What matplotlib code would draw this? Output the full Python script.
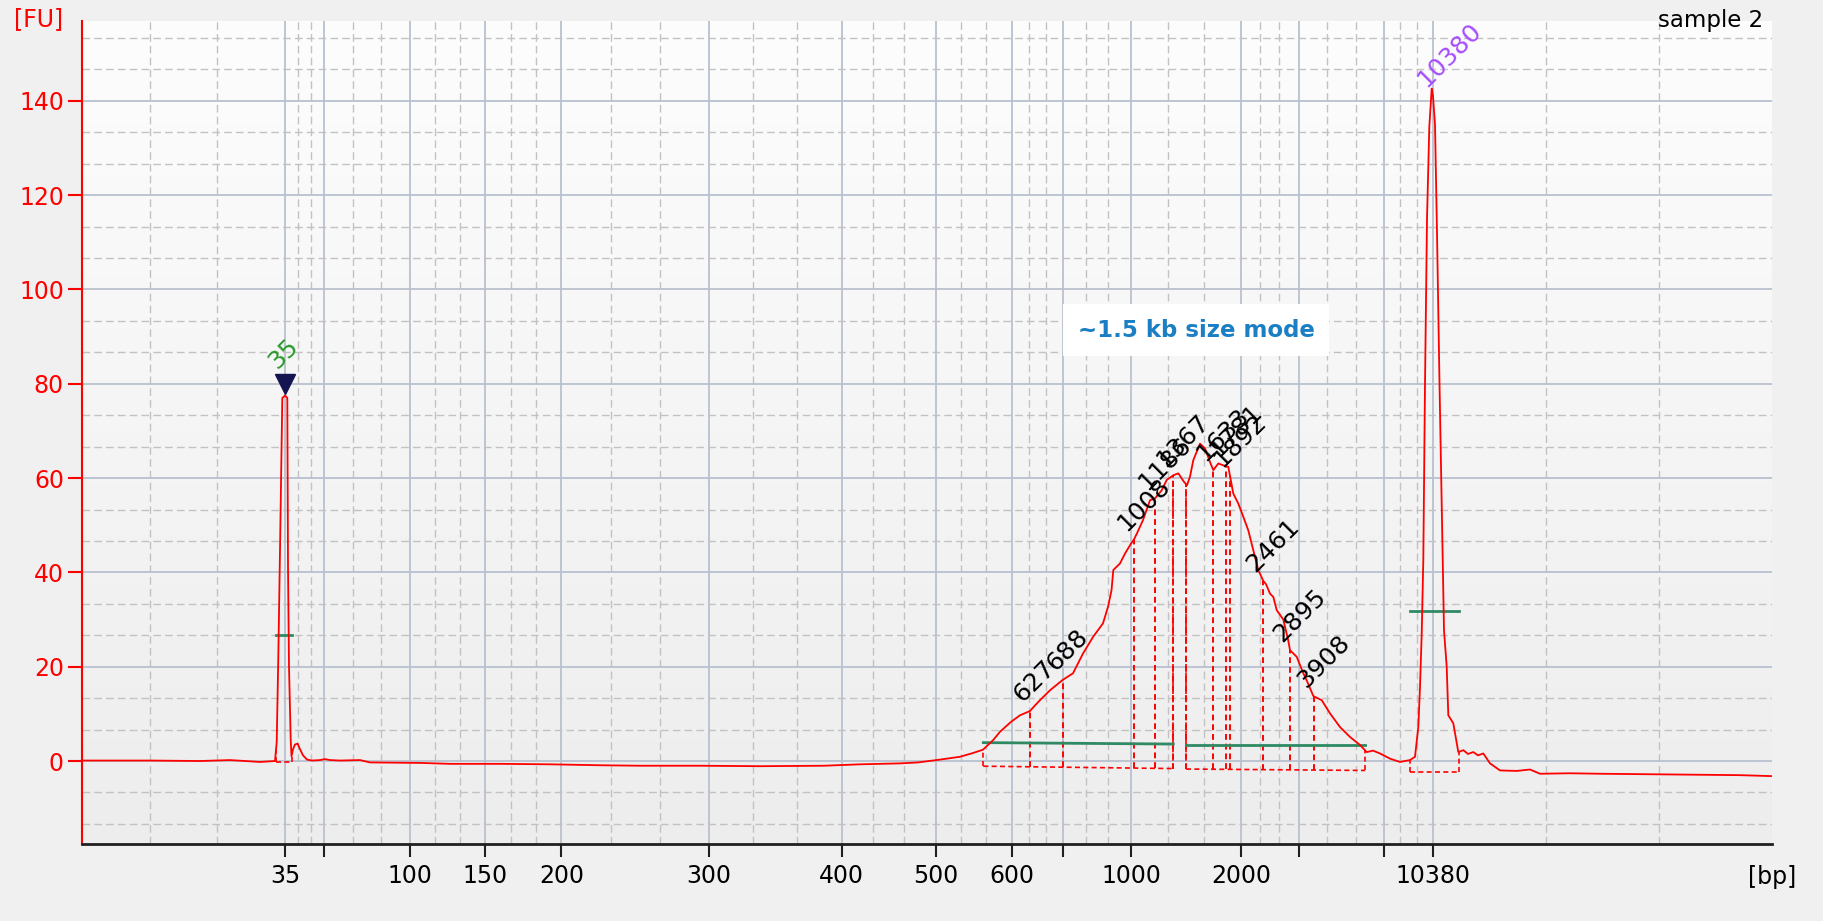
"""
Electroferogramă Bioanalyzer (High Sensitivity DNA) — sample 2.

Axa x este timpul de migrare, etichetat în bp după scara ladder-ului.
"""

import matplotlib
matplotlib.use("Agg")
import matplotlib.pyplot as plt
import numpy as np
from matplotlib.colors import LinearSegmentedColormap

# ── Date ─────────────────────────────────────────────────────────────────────

# ladder: dimensiuni (bp) și timpii de migrare (s)
LADDER_BP = [35, 50, 100, 150, 200, 300, 400, 500, 600, 700,
             1000, 2000, 3000, 7000, 10380]
LADDER_TIME = [34.25, 36.20, 40.48, 44.27, 48.07, 55.435, 62.075, 66.79,
               70.575, 73.165, 76.55, 82.05, 84.925, 89.20, 91.65]
LADDER_SHOWN = ["35", "", "100", "150", "200", "300", "400", "500", "600",
                "", "1000", "2000", "", "", "10380"]

# semnal (FU) în funcție de timp (s)
TRACE_TIME = [
    24.10, 27.50, 30.00, 31.50, 33.00, 33.75, 33.835, 33.915, 34.00, 34.115,
    34.25, 34.365, 34.40, 34.45, 34.535, 34.575, 34.65, 34.75, 34.875, 35.00,
    35.15, 35.35, 35.60, 36.00, 36.25, 36.50, 37.00, 38.00, 38.50, 41.00,
    42.50, 45.00, 47.50, 50.00, 52.00, 55.00, 58.00, 61.20, 63.00, 65.00,
    65.90, 67.00, 68.00, 68.65, 69.15, 69.65, 70.00, 70.55, 71.00, 71.50,
    71.75, 72.00, 72.50, 73.135, 73.65, 74.15, 74.65, 75.15, 75.40, 75.575,
    75.665, 76.00, 76.25, 76.55, 76.70, 76.85, 77.15, 77.50, 77.75, 78.085,
    78.335, 78.665, 78.915, 79.20, 79.35, 79.50, 79.665, 80.00, 80.25, 80.50,
    80.665, 80.915, 81.165, 81.415, 81.665, 81.915, 82.165, 82.415, 82.665,
    82.915, 83.165, 83.30, 83.50, 83.665, 83.835, 84.165, 84.415, 84.50,
    84.835, 85.165, 85.335, 85.665, 85.75, 86.085, 86.335, 86.50, 87.00,
    87.50, 88.00, 88.335, 88.65, 89.00, 89.50, 90.00, 90.50, 90.75, 90.915,
    91.00, 91.085, 91.165, 91.25, 91.35, 91.465, 91.585, 91.65, 91.75, 91.85,
    91.975, 92.135, 92.20, 92.335, 92.415, 92.665, 92.915, 93.165, 93.40,
    93.665, 93.90, 94.165, 94.50, 95.00, 95.835, 96.50, 97.00, 98.50, 100.00,
    102.50, 105.00, 107.00, 108.55,
]
TRACE_FU = [
    0.1, 0.1, 0.0, 0.2, -0.2, 0.0, 4.0, 22.0, 44.7, 77.0,
    77.5, 77.0, 41.0, 20.0, 4.4, 1.0, 2.5, 3.5, 3.7, 2.5,
    1.2, 0.3, 0.1, 0.2, 0.4, 0.2, 0.1, 0.2, -0.3, -0.4,
    -0.6, -0.6, -0.7, -0.9, -1.0, -1.0, -1.1, -1.0, -0.7, -0.5,
    -0.3, 0.3, 0.9, 1.7, 2.4, 4.4, 6.2, 8.3, 9.7, 10.6,
    11.8, 12.9, 15.0, 17.2, 18.6, 22.8, 26.3, 29.2, 32.7, 36.2,
    40.5, 41.9, 44.0, 46.1, 47.0, 48.3, 51.1, 55.3, 55.7, 57.4,
    59.6, 60.6, 61.0, 59.2, 58.5, 60.3, 63.8, 67.3, 66.3, 63.4,
    61.7, 63.1, 62.7, 62.4, 56.7, 54.6, 51.8, 48.9, 44.7,
    40.5, 38.2, 37.5, 35.5, 34.8, 32.0, 30.0, 25.5, 23.5,
    22.1, 18.6, 17.1, 13.8, 13.6, 12.9, 11.2, 10.1, 7.2,
    5.1, 3.4, 1.9, 2.2, 1.6, 0.5, -0.2, 0.2, 0.9, 7.2,
    15.7, 27.0, 42.6, 80.0, 115.0, 134.5, 142.6, 141.0, 135.0, 112.0,
    80.0, 42.6, 27.7, 20.0, 9.7, 8.0, 1.9, 2.3, 1.5,
    1.9, 1.2, 1.6, -0.5, -2.0, -2.1, -1.8, -2.7, -2.6, -2.7,
    -2.8, -2.9, -3.0, -3.2,
]

# vârfuri detectate în regiuni (timp, etichetă)
PEAK_TIME = [71.50, 73.135, 76.70, 77.75, 78.665, 79.30, 80.665, 81.30,
             81.50, 83.165, 84.50, 85.70]
PEAK_LABEL = ["627", "688", "1008", "1186", "1367", "", "1633", "1781",
              "1892", "2461", "2895", "3908"]

# regiuni: început, sfârșit (s), linia de bază la capete (FU), nivel linie verde
REGION_START = [69.165, 79.30]
REGION_END = [78.665, 88.25]
REGION_BASE = [(-1.1, -1.6), (-1.7, -2.0)]
REGION_GREEN = [(3.9, 3.6), (3.3, 3.3)]

# markeri (lower 35 bp, upper 10380 bp)
MARKER_TIME = [34.25, 91.65]
MARKER_LABEL = ["35", "10380"]
MARKER_SPAN = [(33.80, 34.585), (90.50, 92.95)]
MARKER_GREEN = [26.7, 31.8]
MARKER_BASE = [-0.3, -2.3]

SAMPLE_NAME = "sample 2"
NOTE = "~1.5 kb size mode"
NOTE_POS = (79.8, 91.4)

X_LIM = (24.10, 108.575)
Y_LIM = (-17.6, 157.0)

# ── Stil ─────────────────────────────────────────────────────────────────────

RED = "#ff0000"
GREEN = "#2f8a64"
GRID_SOLID = "#b9c1cf"
GRID_DASH = "#c2c2c2"
FONT = "DejaVu Sans"
TICK_SIZE = 17
PEAK_SIZE = 18


def thirds(edges):
    out = []
    for a, b in zip(edges[:-1], edges[1:]):
        out += [a + (b - a) / 3, a + 2 * (b - a) / 3]
    return out


def draw_grid(ax):
    for t in LADDER_TIME:
        ax.axvline(t, color=GRID_SOLID, lw=1.3, zorder=1)
    for t in thirds([X_LIM[0]] + LADDER_TIME + [X_LIM[1]]):
        ax.axvline(t, color=GRID_DASH, lw=1.0, ls=(0, (5.5, 3)), zorder=1)
    majors = list(range(0, 141, 20))
    for y in majors:
        ax.axhline(y, color=GRID_SOLID, lw=1.3, zorder=1)
    for y in thirds([-20] + majors + [160]):
        if Y_LIM[0] < y < Y_LIM[1]:
            ax.axhline(y, color=GRID_DASH, lw=1.0, ls=(0, (5.5, 3)), zorder=1)


def main():
    plt.rcParams["font.family"] = [FONT]
    fig = plt.figure(figsize=(18.24, 9.21), dpi=100, facecolor="#f0f0f0")
    ax = fig.add_axes([0.04496, 0.0836, 0.92626, 0.89392])
    ax.set_xlim(*X_LIM)
    ax.set_ylim(*Y_LIM)

    # fundal în gradient (alb sus, gri deschis jos)
    bg = LinearSegmentedColormap.from_list("bg", ["#ededed", "#fdfdfd"])
    grad = np.linspace(1, 0, 256).reshape(-1, 1)
    ax.imshow(grad, extent=[*X_LIM, *Y_LIM], aspect="auto", cmap=bg,
              vmin=0, vmax=1, zorder=0, origin="upper")
    draw_grid(ax)

    t = np.array(TRACE_TIME)
    fu = np.array(TRACE_FU)
    dash = (0, (3, 2))

    # regiuni: linie de bază punctată + linie verde
    for start, end, base, green in zip(REGION_START, REGION_END,
                                       REGION_BASE, REGION_GREEN):
        ax.plot([start, end], base, color=RED, lw=1.2, ls=dash, zorder=3)
        ax.plot([start, end], green, color=GREEN, lw=2.0, zorder=4)
        for edge, b in zip((start, end), base):
            ax.plot([edge, edge], [b, np.interp(edge, t, fu)], color=RED,
                    lw=1.2, ls=dash, zorder=3)

    # vârfuri: linii verticale punctate și etichete rotite
    for pt, lab in zip(PEAK_TIME, PEAK_LABEL):
        top = np.interp(pt, t, fu)
        for start, end, base in zip(REGION_START, REGION_END, REGION_BASE):
            if start <= pt <= end:
                b = np.interp(pt, [start, end], base)
        ax.plot([pt, pt], [b, top], color=RED, lw=1.4, ls=dash, zorder=3)
        if lab:
            ax.annotate(lab, (pt, top), xytext=(-3, 3), textcoords="offset points",
                        rotation=45, rotation_mode="anchor", ha="left",
                        va="bottom", fontsize=PEAK_SIZE, color="black", zorder=6)

    # markeri
    for mt, span, green, base in zip(MARKER_TIME, MARKER_SPAN, MARKER_GREEN,
                                     MARKER_BASE):
        ax.plot(span, [green, green], color=GREEN, lw=2.0, zorder=4)
        ax.plot(span, [base, base], color=RED, lw=1.2, ls=dash, zorder=3)
        for edge in span:
            ax.plot([edge, edge], [base, np.interp(edge, t, fu)], color=RED,
                    lw=1.2, ls=dash, zorder=3)

    ax.plot(t, fu, color=RED, lw=1.3, zorder=5)

    low_top = np.interp(MARKER_TIME[0], t, fu)
    ax.plot(MARKER_TIME[0], low_top + 2.5, marker="v", ms=14, color="#141450",
            zorder=7)
    ax.annotate(MARKER_LABEL[0], (MARKER_TIME[0], low_top), xytext=(-3, 16),
                textcoords="offset points", rotation=45, rotation_mode="anchor",
                ha="left", va="bottom", fontsize=PEAK_SIZE, color="#2a9a2a",
                zorder=7)
    ax.annotate(MARKER_LABEL[1], (MARKER_TIME[1], np.interp(MARKER_TIME[1], t, fu)),
                xytext=(-2, 3), textcoords="offset points", rotation=45,
                rotation_mode="anchor", ha="left", va="bottom",
                fontsize=PEAK_SIZE, color="#a64dff", zorder=7)

    ax.text(*NOTE_POS, NOTE, ha="center", va="center", fontsize=16.5,
            fontweight="bold", color="#1b7fc4", zorder=8,
            bbox=dict(boxstyle="square,pad=0.62", facecolor="white",
                      edgecolor="none"))

    # axe
    ax.set_xticks(LADDER_TIME)
    ax.set_xticklabels(LADDER_SHOWN)
    ax.set_yticks(range(0, 141, 20))
    ax.tick_params(axis="x", length=9.5, width=1.5, color="#202020",
                   labelsize=TICK_SIZE, pad=5)
    ax.tick_params(axis="y", length=10, width=1.5, color=RED,
                   labelcolor=RED, labelsize=TICK_SIZE, pad=3)
    for side in ("top", "right"):
        ax.spines[side].set_visible(False)
    ax.spines["left"].set_color(RED)
    ax.spines["left"].set_linewidth(1.5)
    ax.spines["bottom"].set_color("#202020")
    ax.spines["bottom"].set_linewidth(2.0)

    fig.text(39 / 1824, 1 - 19.5 / 921, "[FU]", color=RED, fontsize=TICK_SIZE,
             ha="center", va="center")
    fig.text(1763 / 1824, 1 - 20 / 921, SAMPLE_NAME, color="black",
             fontsize=16.5, ha="right", va="center")
    fig.text(1772 / 1824, 1 - 877 / 921, "[bp]", color="black",
             fontsize=TICK_SIZE, ha="center", va="center")

    fig.savefig("out.png", dpi=100, facecolor=fig.get_facecolor())
    plt.close(fig)


if __name__ == "__main__":
    main()
